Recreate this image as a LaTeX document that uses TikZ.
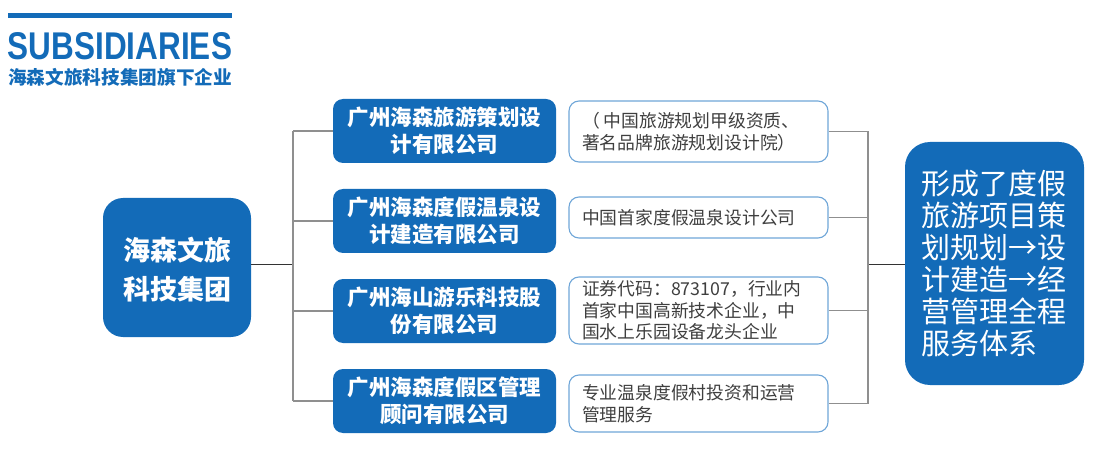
\documentclass[tikz,border=0pt]{standalone}
\usepackage{fontspec}
\setmainfont{Liberation Sans}
\newfontfamily\cjk{Noto Sans CJK SC}
\usetikzlibrary{calc}
\definecolor{hblue}{HTML}{136BB8}
\definecolor{lborder}{HTML}{6FA6D8}
\definecolor{ltext}{HTML}{3F3F3F}
\definecolor{trunk}{HTML}{333333}
\definecolor{branch}{HTML}{8F8F8F}
\tikzset{
  bluebox/.style={fill=hblue, text=white, rounded corners=10pt, align=center, inner sep=0pt},
  lightbox/.style={draw=lborder, line width=1.1pt, fill=white, rounded corners=10pt, text=ltext,
    minimum width=259pt, text width=233pt, align=left, inner xsep=13pt, inner ysep=0pt},
  trunkline/.style={draw=trunk, line width=1pt},
  branchline/.style={draw=branch, line width=1.4pt},
}
\begin{document}
\begin{tikzpicture}[x=1pt,y=-1pt]
\useasboundingbox (0,0) rectangle (1102,454);
% header
\fill[hblue] (8,13) rectangle (232,18);
\node[inner sep=0pt, text=hblue] (title) at (120,46.5) {\resizebox{224pt}{27pt}{\bfseries SUBSIDIARIES}};
\node[inner sep=0pt, text=hblue] (subtitle) at (120,77) {\resizebox{224pt}{!}{\cjk\bfseries\fontsize{18.5}{20}\selectfont 海森文旅科技集团旗下企业}};
% left node
\node[bluebox, rounded corners=20pt, minimum width=148pt, minimum height=139pt] (L) at (177,267.5) {};
\node[inner sep=0pt, text=white, align=center, font=\cjk\bfseries\fontsize{27}{39}\selectfont] (Ltext) at (177,270)
  {海森文旅\\科技集团};
% middle nodes
\tikzset{midtext/.style={bluebox, minimum width=223pt, minimum height=64pt, font=\cjk\bfseries\fontsize{21.5}{27}\selectfont}}
\node[midtext] (M1) at (444.5,131) {广州海森旅游策划设\\计有限公司};
\node[midtext] (M2) at (444.5,221) {广州海森度假温泉设\\计建造有限公司};
\node[midtext] (M3) at (444.5,311) {广州海山游乐科技股\\份有限公司};
\node[midtext] (M4) at (444.5,401) {广州海森度假区管理\\顾问有限公司};
% light boxes
\tikzset{lt/.style={lightbox, font=\cjk\fontsize{17.8}{21.5}\selectfont}}
\node[lt, minimum height=61pt] (B1) at (698.5,131.5) {（\hspace{4pt}中国旅游规划甲级资质、\\著名品牌旅游规划设计院）};
\node[lt, minimum height=41pt] (B2) at (698.5,217.5) {中国首家度假温泉设计公司};
\node[lt, minimum height=67pt] (B3) at (698.5,310.5) {证券代码：873107，行业内\\首家中国高新技术企业，中\\国水上乐园设备龙头企业};
\node[lt, minimum height=57pt] (B4) at (698.5,403.5) {专业温泉度假村投资和运营\\管理服务};
% right node
\node[fill=hblue, text=white, rounded corners=25pt, minimum width=179pt, minimum height=243pt,
  text width=147pt, inner xsep=16pt, inner ysep=0pt, align=left,
  font=\cjk\fontsize{29}{32}\selectfont] (R) at (994.5,263.5)
  {形成了度假\\旅游项目策\\划规划→设\\计建造→经\\营管理全程\\服务体系};
% connectors left
\coordinate (Lj) at (293,264);
\draw[trunkline] (L.east |- Lj) -- (Lj);
\draw[branchline] (Lj |- M1) -- (Lj |- M4);
\foreach \m in {M1,M2,M3,M4} {\draw[branchline] (Lj |- \m) -- (\m.west);}
% connectors right
\coordinate (Rj) at (868,264);
\draw[trunkline] (Rj) -- (R.west |- Rj);
\draw[branchline] (Rj |- B1) -- (Rj |- B4);
\foreach \b in {B1,B2,B3,B4} {\draw[branchline] (\b.east) -- (Rj |- \b);}
\end{tikzpicture}
\end{document}
